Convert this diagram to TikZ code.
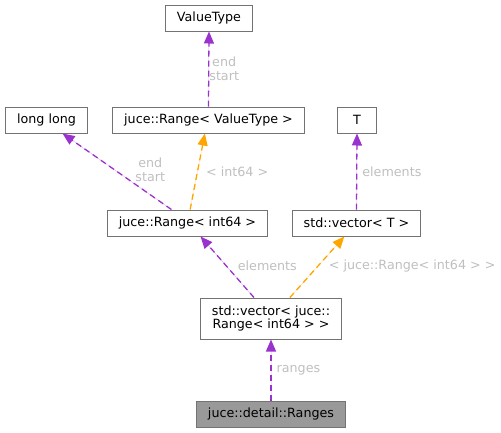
\documentclass[tikz,border=0pt]{standalone}
\usepackage{fontspec}
\setmainfont{DejaVu Sans}
\usepackage{xcolor}
\usetikzlibrary{arrows.meta}
\definecolor{usepurple}{HTML}{9A32CD}
\definecolor{tmplorange}{HTML}{FFA500}

\begin{document}
\begin{tikzpicture}[
  x=1pt,y=-1pt,
  font=\fontsize{12.7}{13.5}\selectfont,
  classbox/.style={draw=black!55,fill=white,line width=1pt,minimum height=26pt,inner xsep=11.5pt,inner ysep=0pt,align=center},
  mainbox/.style={classbox,fill=black!40},
  usearr/.style={draw=usepurple,fill=usepurple,dash pattern=on 6pt off 4pt,line width=1.3pt,-{Triangle[length=12pt,width=10pt]}},
  tmplarr/.style={usearr,draw=tmplorange,fill=tmplorange},
  lbl/.style={text=black!25,anchor=west,inner sep=0pt,align=center,font=\fontsize{12.7}{14.5}\selectfont}
]
\useasboundingbox (0,0) rectangle (501,432);

\node[classbox] (vt) at (209,18) {ValueType};
\node[classbox] (ll) at (46.5,120) {long long};
\node[classbox] (rv) at (208.5,120) {juce::Range< ValueType >};
\node[classbox,minimum width=39pt] (t) at (357,120) {T};
\node[classbox] (ri) at (187.5,223) {juce::Range< int64 >};
\node[classbox] (vtt) at (356.5,223) {std::vector< T >};
\node[classbox,minimum height=41pt] (vr) at (271,318.5) {std::vector< juce::\\Range< int64 > >};
\node[mainbox] (rg) at (271,414) {juce::detail::Ranges};

\draw[usearr] (rv.north) -- node[lbl,pos=0.5,xshift=0pt] (lvt) {end\\start} (vt.south);
\draw[usearr] (ri.140) -- node[lbl,pos=0.52,xshift=20pt] (lll) {end\\start} (ll.320);
\draw[tmplarr] (ri.79) -- node[lbl,pos=0.5,xshift=8pt] (lrv) {< int64 >} (rv.255);
\draw[usearr] (vtt.north) -- node[lbl,pos=0.5,xshift=5pt] (lt) {elements} (t.south);
\draw[usearr] (vr.129.5) -- node[lbl,pos=0.52,xshift=11pt] (lri) {elements} (ri.-46);
\draw[tmplarr] (vr.48.8) -- node[lbl,pos=0.52,xshift=10pt] (lvtt) {< juce::Range< int64 > >} (vtt.228.5);
\draw[usearr] (rg.north) -- node[lbl,pos=0.5,xshift=5pt] (lvr) {ranges} (vr.south);
\end{tikzpicture}
\end{document}
